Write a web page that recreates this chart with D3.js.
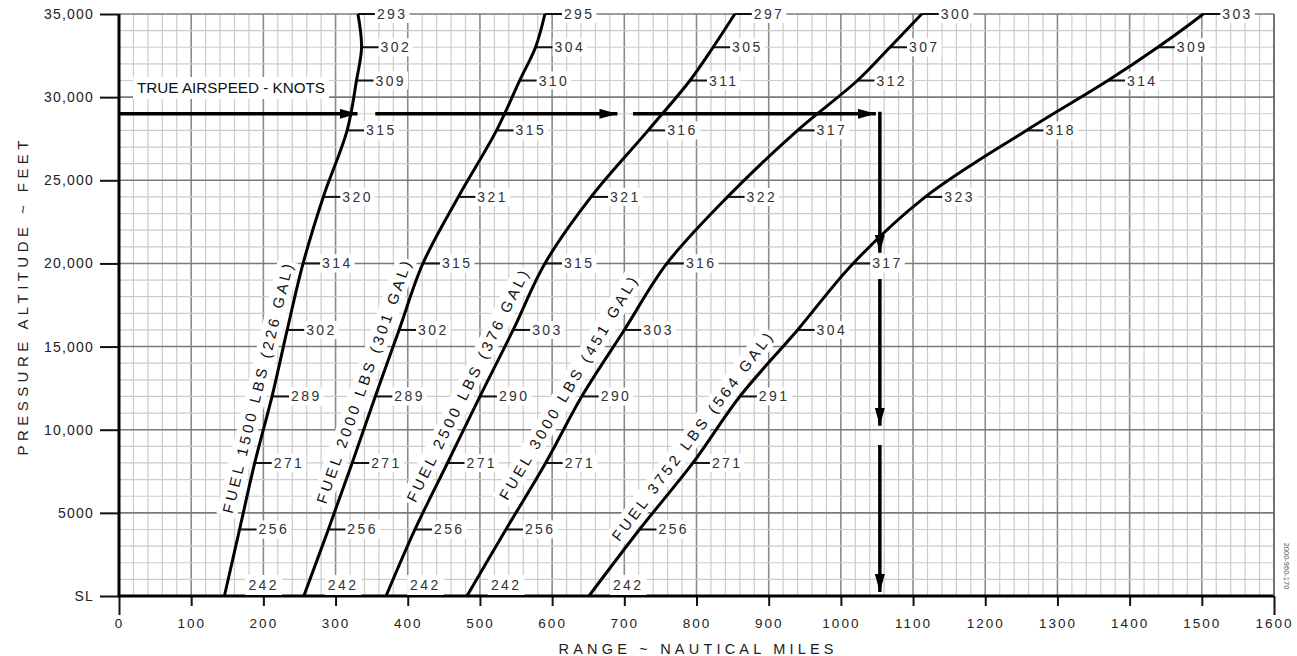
<!DOCTYPE html>
<html><head><meta charset="utf-8">
<script src="https://cdn.jsdelivr.net/npm/d3@7"></script>
<style>html,body{margin:0;padding:0;background:#fff;} svg{display:block;}</style>
</head><body>
<svg id="chart" width="1297" height="656"></svg>
<script>
// ---------- DATA ----------
const rangeTicks = [0,100,200,300,400,500,600,700,800,900,1000,1100,1200,1300,1400,1500,1600];
const altTicks = [0,5000,10000,15000,20000,25000,30000,35000];
const altTickLabels = ["SL","5000","10,000","15,000","20,000","25,000","30,000","35,000"];

const fuelLabels = ["FUEL 1500 LBS (226 GAL)","FUEL 2000 LBS (301 GAL)","FUEL 2500 LBS (376 GAL)","FUEL 3000 LBS (451 GAL)","FUEL 3752 LBS (564 GAL)"];
const fuelLabelAltitudes = [12250, 12540, 12200, 12000, 9000];

// altitudes (ft) at which the TAS ticks sit; the curves pass through these points
const tasAltitudes = [0,4000,8000,12000,16000,20000,24000,28000,31000,33000,35000];
// range (nautical miles) of each fuel curve at those altitudes
const range1500 = [146,167,188,212,233,255,283,316,329,336,331];
const range2000 = [256,290,323,355,388,421,470,523,555,577,590];
const range2500 = [370,410,455,500,546,590,654,733,791,823,853];
const range3000 = [482,536,591,641,700,759,843,940,1023,1068,1112];
const range3752 = [651,721,795,860,940,1017,1117,1257,1370,1439,1502];
// true airspeed (knots) labels
const tas1500 = [242,256,271,289,302,314,320,315,309,302,293];
const tas2000 = [242,256,271,289,302,315,321,315,310,304,295];
const tas2500 = [242,256,271,290,303,315,321,316,311,305,297];
const tas3000 = [242,256,271,290,303,316,322,317,312,307,300];
const tas3752 = [242,256,271,291,304,317,323,318,314,309,303];

const exampleAltitude = 29000;
const exampleRange = 1054;
const exampleHorizontalSegments = [[0,336],[355,696],[712,1054]];
const exampleVerticalSegments = [[29000,20400],[19060,10000],[9080,0]];

const ranges = [range1500, range2000, range2500, range3000, range3752];
const tasSets = [tas1500, tas2000, tas2500, tas3000, tas3752];

// ---------- CHART ----------
const svg = d3.select("#chart");
const FONT = "'Liberation Sans', Arial, sans-serif";
const x = d3.scaleLinear().domain([0,1600]).range([119,1274]);
const y = d3.scaleLinear().domain([0,35000]).range([596,14]);

// grid
const grid = svg.append("g");
d3.range(0,1601,20).forEach(v=>{
  const major = v%100===0;
  grid.append("line").attr("x1",x(v)).attr("x2",x(v)).attr("y1",y(0)).attr("y2",y(35000))
    .attr("stroke",major?"#8a8a8a":"#cccccc").attr("stroke-width",major?1.6:1.2);
});
d3.range(0,35001,1000).forEach(v=>{
  const major = v%5000===0;
  grid.append("line").attr("x1",x(0)).attr("x2",x(1600)).attr("y1",y(v)).attr("y2",y(v))
    .attr("stroke",major?"#7a7a7a":"#cccccc").attr("stroke-width",major?1.6:1.2);
});

// label helper with white background
function bgText(g, txt, attrs, pad){
  const t = g.append("text").text(txt);
  Object.entries(attrs).forEach(([k,v])=>t.attr(k,v));
  const b = t.node().getBBox();
  g.insert("rect","text").attr("x",b.x-pad).attr("y",b.y-pad+1).attr("width",b.width+2*pad).attr("height",b.height+2*pad-2).attr("fill","#fff");
  return t;
}

// "TRUE AIRSPEED - KNOTS"
const tak = svg.append("g");
bgText(tak, "TRUE AIRSPEED - KNOTS", {x:x(25), y:y(30550), "font-family":FONT, "font-size":14.5, fill:"#111",
  "dominant-baseline":"central", textLength:188, lengthAdjust:"spacingAndGlyphs"}, 4);

// axes
const yAxis = d3.axisLeft(y).tickValues(altTicks).tickFormat((d,i)=>altTickLabels[i]).tickSize(19).tickPadding(6);
const gy = svg.append("g").attr("transform",`translate(${x(0)},0)`).call(yAxis);
gy.select(".domain").remove();
gy.selectAll(".tick line").attr("stroke","#111").attr("stroke-width",2);
gy.selectAll(".tick text").attr("font-family",FONT).attr("font-size",14).attr("fill","#222").attr("letter-spacing",1.2);

const xAxis = d3.axisBottom(x).tickValues(rangeTicks).tickFormat(d3.format("d")).tickSize(10).tickPadding(12);
const gx = svg.append("g").attr("transform",`translate(0,${y(0)})`).call(xAxis);
gx.select(".domain").remove();
gx.selectAll(".tick line").attr("stroke","#111").attr("stroke-width",2)
  .attr("y2",d=>(d===0||d===1600)?19:10);
gx.selectAll(".tick text").attr("font-family",FONT).attr("font-size",13.5).attr("fill","#222").attr("letter-spacing",2);

// axis lines
svg.append("line").attr("x1",x(0)).attr("x2",x(0)).attr("y1",y(35000)).attr("y2",y(0)+1).attr("stroke","#000").attr("stroke-width",3);
svg.append("line").attr("x1",x(0)-1).attr("x2",x(1600)).attr("y1",y(0)).attr("y2",y(0)).attr("stroke","#000").attr("stroke-width",3);
svg.append("line").attr("x1",x(1600)).attr("x2",x(1600)).attr("y1",y(35000)).attr("y2",y(0)).attr("stroke","#666").attr("stroke-width",1.6);

// axis titles
svg.append("text").attr("x",696).attr("y",654).attr("text-anchor","middle")
  .attr("font-family",FONT).attr("font-size",14.5).attr("textLength",275).attr("lengthAdjust","spacing")
  .attr("fill","#222").text("RANGE ~ NAUTICAL MILES");
svg.append("text").attr("transform","translate(22,298) rotate(-90)").attr("text-anchor","middle").attr("dominant-baseline","central")
  .attr("font-family",FONT).attr("font-size",15).attr("textLength",315).attr("lengthAdjust","spacing")
  .attr("fill","#222").text("PRESSURE ALTITUDE ~ FEET");

// watermark
svg.append("text").attr("transform","translate(1286,566) rotate(90)").attr("text-anchor","middle").attr("dominant-baseline","central")
  .attr("font-family",FONT).attr("font-size",7.5).attr("fill","#555").text("2000-960-170");

// curves
const line = d3.line().x(d=>x(d.r)).y(d=>y(d.a)).curve(d3.curveCatmullRom.alpha(0.5));
const curvesG = svg.append("g");
const labelsG = svg.append("g");
ranges.forEach((rs,ci)=>{
  const pts = tasAltitudes.map((a,i)=>({a, r:rs[i]}));
  // TAS labels
  tasAltitudes.forEach((a,ti)=>{
    const px = x(rs[ti]), py = y(a);
    if(a===0){
      bgText(labelsG, String(tasSets[ci][ti]), {x:px+24, y:py-11, "font-family":FONT, "font-size":14, fill:"#333",
        "letter-spacing":2.4, "dominant-baseline":"central"}, 3);
    } else {
      bgText(labelsG, String(tasSets[ci][ti]), {x:px+19, y:py, "font-family":FONT, "font-size":14, fill:"#333",
        "letter-spacing":2.4, "dominant-baseline":"central"}, 2);
      labelsG.append("line").attr("x1",px).attr("x2",px+17).attr("y1",py).attr("y2",py).attr("stroke","#111").attr("stroke-width",2);
    }
  });
  curvesG.append("path").datum(pts).attr("d",line).attr("fill","none").attr("stroke","#000").attr("stroke-width",3);
  // fuel label along curve
  const la = fuelLabelAltitudes[ci];
  const interp = d3.scaleLinear().domain(tasAltitudes).range(rs);
  const cx = x(interp(la)), cy = y(la);
  const p1 = [x(interp(la-3500)), y(la-3500)], p2 = [x(interp(la+3500)), y(la+3500)];
  const ang = Math.atan2(p2[1]-p1[1], p2[0]-p1[0])*180/Math.PI;
  const g = labelsG.append("g").attr("transform",`translate(${cx},${cy}) rotate(${ang})`);
  bgText(g, fuelLabels[ci], {x:0, y:-16, "text-anchor":"middle", "dominant-baseline":"central", "font-family":FONT,
    "font-size":15, fill:"#111", textLength:256, lengthAdjust:"spacing"}, 3);
});
svg.node().appendChild(curvesG.node());

// example arrows
const defs = svg.append("defs");
defs.append("marker").attr("id","ah").attr("viewBox","0 0 18 10").attr("refX",18).attr("refY",5)
  .attr("markerWidth",18).attr("markerHeight",10).attr("markerUnits","userSpaceOnUse").attr("orient","auto")
  .append("path").attr("d","M0,0 L18,5 L0,10 Z").attr("fill","#000");
const arr = svg.append("g");
exampleHorizontalSegments.forEach(s=>{
  arr.append("line").attr("x1",x(s[0])).attr("x2",x(s[1])-4).attr("y1",y(exampleAltitude)).attr("y2",y(exampleAltitude))
    .attr("stroke","#000").attr("stroke-width",3.5).attr("marker-end","url(#ah)");
});
exampleVerticalSegments.forEach(s=>{
  arr.append("line").attr("x1",x(exampleRange)).attr("x2",x(exampleRange)).attr("y1",y(s[0])-(s[0]===exampleAltitude?2:0)).attr("y2",y(s[1])-4)
    .attr("stroke","#000").attr("stroke-width",3.5).attr("marker-end","url(#ah)");
});
</script>
</body></html>
